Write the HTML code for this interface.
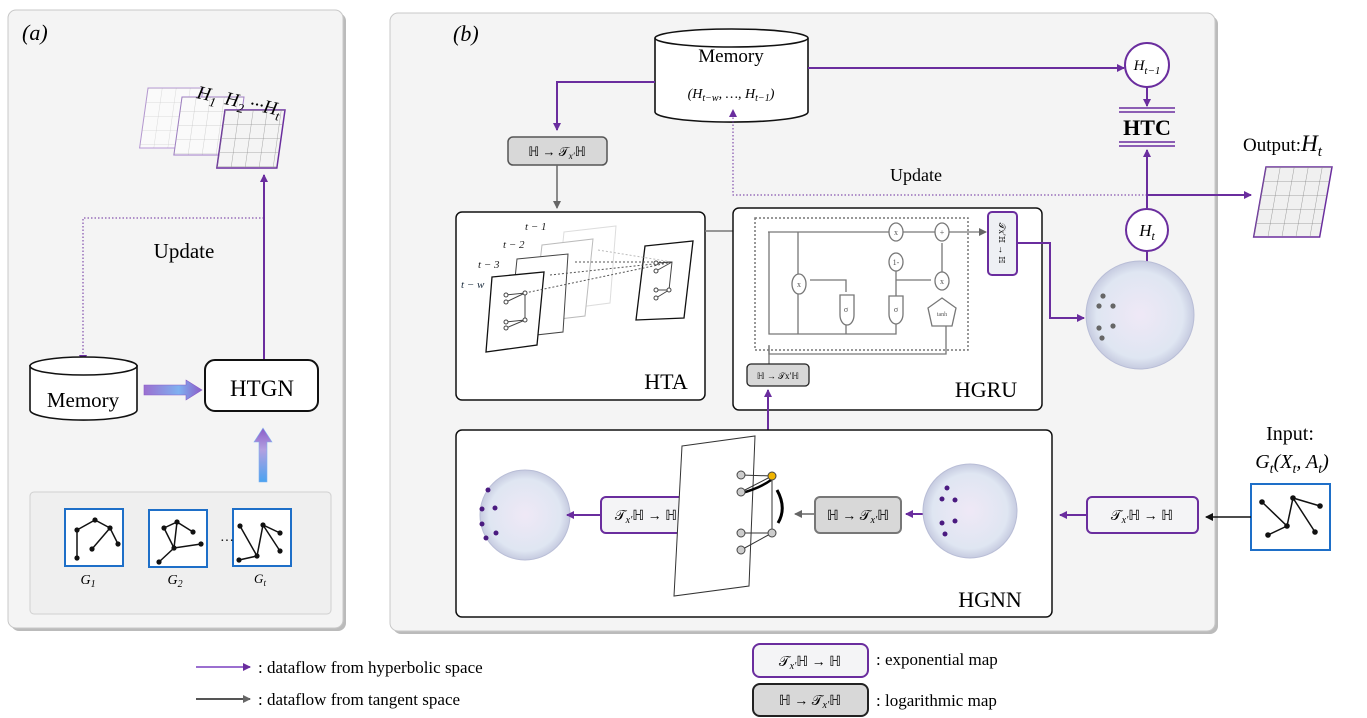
<!DOCTYPE html>
<html><head><meta charset="utf-8"><style>
body{margin:0;background:#fff}
svg{display:block}
text{font-family:"Liberation Serif",serif}
</style></head><body>
<svg width="1367" height="718" viewBox="0 0 1367 718" xmlns="http://www.w3.org/2000/svg">
<defs>
<marker id="ap" markerWidth="8" markerHeight="8" refX="7" refY="4" orient="auto" markerUnits="userSpaceOnUse"><path d="M0,0 L8,4 L0,8z" fill="#6a2d9e"/></marker>
<marker id="ag" markerWidth="8" markerHeight="8" refX="7" refY="4" orient="auto" markerUnits="userSpaceOnUse"><path d="M0,0 L8,4 L0,8z" fill="#666"/></marker>
<marker id="ak" markerWidth="8" markerHeight="8" refX="7" refY="4" orient="auto" markerUnits="userSpaceOnUse"><path d="M0,0 L8,4 L0,8z" fill="#111"/></marker>
<radialGradient id="sph" cx="50%" cy="50%" r="50%"><stop offset="0" stop-color="#efe8f6"/><stop offset="0.8" stop-color="#dfe6f2"/><stop offset="1" stop-color="#c6cbe0"/></radialGradient>
<linearGradient id="fat" x1="0" x2="1"><stop offset="0" stop-color="#9b6fd0"/><stop offset="0.6" stop-color="#7fb0f0"/><stop offset="1" stop-color="#8a5cc8"/></linearGradient>
<linearGradient id="fatv" x1="0" y1="1" x2="0" y2="0"><stop offset="0" stop-color="#4aa3f0"/><stop offset="0.6" stop-color="#b3a0e0"/><stop offset="1" stop-color="#8a5cc8"/></linearGradient>
<pattern id="grid" width="14" height="14" patternUnits="userSpaceOnUse"><path d="M14 0H0V14" fill="none" stroke="#888" stroke-width="0.8"/></pattern>
</defs>

<!-- Panel a -->
<rect x="11" y="13" width="335" height="618" rx="8" fill="#bbb"/>
<rect x="8" y="10" width="335" height="618" rx="8" fill="#f4f4f4" stroke="#c8c8c8"/>
<text x="22" y="40" font-size="22" font-style="italic">(a)</text>
<g transform="translate(148,88) skewX(-8)"><rect width="55" height="60" fill="#fafafa" stroke="#b99ad8"/><rect width="55" height="60" fill="url(#grid)" opacity="0.35"/></g>
<g transform="translate(182,97) skewX(-8)"><rect width="62" height="58" fill="#fafafa" stroke="#a07cc8"/><rect width="62" height="58" fill="url(#grid)" opacity="0.45"/></g>
<g transform="translate(225,110) skewX(-8)"><rect width="60" height="58" fill="#f4f4f4" stroke="#6a2d9e" stroke-width="1.5"/><rect width="60" height="58" fill="url(#grid)" opacity="0.9"/></g>
<text x="196" y="98" font-size="19" font-style="italic" transform="rotate(12 196 98)">H<tspan font-size="13" dy="5">1</tspan></text>
<text x="224" y="104" font-size="19" font-style="italic" transform="rotate(12 224 104)">H<tspan font-size="13" dy="5">2</tspan><tspan dy="-5"> ···H</tspan><tspan font-size="13" dy="5">t</tspan></text>
<text x="184" y="258" font-size="21" text-anchor="middle">Update</text>
<path d="M264 218 H83 V362" fill="none" stroke="#6a2d9e" stroke-dasharray="1.5,2" marker-end="url(#ap)"/>
<line x1="264" y1="360" x2="264" y2="175" stroke="#6a2d9e" stroke-width="2" marker-end="url(#ap)"/>
<path d="M30 365 V410 A53 10 0 0 0 137 410 V365" fill="#fff" stroke="#111" stroke-width="1.6"/>
<ellipse cx="83.5" cy="366" rx="53.5" ry="9" fill="#fff" stroke="#111" stroke-width="1.6"/>
<text x="83" y="407" font-size="21" text-anchor="middle">Memory</text>
<path d="M144 317 h42 v-5 l16 10 l-16 10 v-5 h-42z" transform="translate(0,68)" fill="url(#fat)" stroke="#8a5cc8" stroke-width="0.6"/>
<rect x="205" y="360" width="113" height="51" rx="10" fill="#fff" stroke="#111" stroke-width="2"/>
<text x="262" y="396" font-size="23" text-anchor="middle">HTGN</text>
<path d="M259 482 v-40 h-5 l9 -14 l9 14 h-5 v40z" fill="url(#fatv)" stroke="#7fb0f0" stroke-width="0.6"/>
<rect x="30" y="492" width="301" height="122" rx="4" fill="#efefef" stroke="#d0d0d0"/>
<g stroke="#1e6fc8" stroke-width="2" fill="#fff">
<rect x="65" y="509" width="58" height="57"/><rect x="149" y="510" width="58" height="57"/><rect x="233" y="509" width="58" height="57"/>
</g>
<g stroke="#111" stroke-width="1.5" fill="none">
<path d="M77 530 L77 558 M77 530 L95 520 L110 528 L118 544 M110 528 L92 549"/>
<path d="M164 528 L177 522 L193 532 M177 522 L174 548 L201 544 M164 528 L174 548 L159 562"/>
<path d="M240 526 L257 556 L263 525 L280 533 M263 525 L280 551 M257 556 L239 560"/>
</g>
<g fill="#111">
<circle cx="77" cy="530" r="2.6"/><circle cx="77" cy="558" r="2.6"/><circle cx="95" cy="520" r="2.6"/><circle cx="110" cy="528" r="2.6"/><circle cx="118" cy="544" r="2.6"/><circle cx="92" cy="549" r="2.6"/>
<circle cx="164" cy="528" r="2.6"/><circle cx="177" cy="522" r="2.6"/><circle cx="193" cy="532" r="2.6"/><circle cx="174" cy="548" r="2.6"/><circle cx="201" cy="544" r="2.6"/><circle cx="159" cy="562" r="2.6"/>
<circle cx="240" cy="526" r="2.6"/><circle cx="257" cy="556" r="2.6"/><circle cx="263" cy="525" r="2.6"/><circle cx="280" cy="533" r="2.6"/><circle cx="280" cy="551" r="2.6"/><circle cx="239" cy="560" r="2.6"/>
</g>
<text x="220" y="545" font-size="14">···</text>
<text x="88" y="584" font-size="14" font-style="italic" text-anchor="middle">G<tspan font-size="10" dy="3">1</tspan></text>
<text x="175" y="584" font-size="14" font-style="italic" text-anchor="middle">G<tspan font-size="10" dy="3">2</tspan></text>
<text x="260" y="583" font-size="13" font-style="italic" text-anchor="middle">G<tspan font-size="9" dy="3">t</tspan></text>

<!-- Panel b -->
<rect x="393" y="16" width="825" height="618" rx="8" fill="#bbb"/>
<rect x="390" y="13" width="825" height="618" rx="8" fill="#f4f4f4" stroke="#c8c8c8"/>
<text x="453" y="41" font-size="22" font-style="italic">(b)</text>
<path d="M655 38 V112 A76 10 0 0 0 808 112 V38" fill="#fff" stroke="#111" stroke-width="1.6"/>
<ellipse cx="731.5" cy="38" rx="76.5" ry="9" fill="#fff" stroke="#111" stroke-width="1.6"/>
<text x="731" y="62" font-size="19" text-anchor="middle">Memory</text>
<text x="731" y="98" font-size="14" text-anchor="middle" font-style="italic">(H<tspan font-size="10" dy="3">t−w</tspan><tspan dy="-3">, …, H</tspan><tspan font-size="10" dy="3">t−1</tspan><tspan dy="-3">)</tspan></text>
<path d="M655 82 H557 V130" fill="none" stroke="#6a2d9e" stroke-width="2" marker-end="url(#ap)"/>
<line x1="808" y1="68" x2="1124" y2="68" stroke="#6a2d9e" stroke-width="2" marker-end="url(#ap)"/>
<circle cx="1147" cy="65" r="22" fill="#fff" stroke="#6a2d9e" stroke-width="2"/>
<text x="1147" y="70" font-size="15" font-style="italic" text-anchor="middle">H<tspan font-size="11" dy="4">t−1</tspan></text>
<line x1="1147" y1="87" x2="1147" y2="106" stroke="#6a2d9e" stroke-width="2" marker-end="url(#ap)"/>
<g stroke="#6a2d9e" stroke-width="1.5"><line x1="1119" y1="108" x2="1175" y2="108"/><line x1="1119" y1="112" x2="1175" y2="112"/><line x1="1119" y1="142" x2="1175" y2="142"/><line x1="1119" y1="146" x2="1175" y2="146"/></g>
<text x="1147" y="135" font-size="22" font-weight="bold" text-anchor="middle">HTC</text>
<line x1="1147" y1="208" x2="1147" y2="150" stroke="#6a2d9e" stroke-width="2" marker-end="url(#ap)"/>
<path d="M1147 195 H733 V110" fill="none" stroke="#6a2d9e" stroke-dasharray="1.5,2" marker-end="url(#ap)"/>
<text x="916" y="181" font-size="18" text-anchor="middle">Update</text>
<line x1="1147" y1="195" x2="1251" y2="195" stroke="#6a2d9e" stroke-width="2" marker-end="url(#ap)"/>
<text x="1243" y="151" font-size="19">Output:<tspan font-style="italic" font-size="23">H<tspan font-size="15" dy="5">t</tspan></tspan></text>
<g transform="translate(1266,167) skewX(-10)"><rect width="66" height="70" fill="#f0f0f0" stroke="#6a2d9e" stroke-width="1.5"/><rect width="66" height="70" fill="url(#grid)"/></g>
<circle cx="1147" cy="230" r="21" fill="#fff" stroke="#6a2d9e" stroke-width="2"/>
<text x="1147" y="236" font-size="17" font-style="italic" text-anchor="middle">H<tspan font-size="12" dy="4">t</tspan></text>
<line x1="1147" y1="251" x2="1147" y2="262" stroke="#6a2d9e" stroke-width="2"/>
<circle cx="1140" cy="315" r="54" fill="url(#sph)" stroke="#b8bdd6"/>
<g fill="#666"><circle cx="1103" cy="296" r="2.6"/><circle cx="1099" cy="306" r="2.6"/><circle cx="1113" cy="306" r="2.6"/><circle cx="1099" cy="328" r="2.6"/><circle cx="1113" cy="326" r="2.6"/><circle cx="1102" cy="338" r="2.6"/></g>

<rect x="508" y="137" width="99" height="28" rx="5" fill="#d8d8d8" stroke="#555" stroke-width="1.5"/>
<text x="557" y="156" font-size="13" text-anchor="middle">ℍ → 𝒯<tspan font-size="9" dy="3" font-style="italic">x′</tspan><tspan dy="-3">ℍ</tspan></text>
<line x1="557" y1="165" x2="557" y2="208" stroke="#666" stroke-width="1.5" marker-end="url(#ag)"/>

<!-- HTA -->
<rect x="456" y="212" width="249" height="188" rx="6" fill="#fff" stroke="#111" stroke-width="1.5"/>
<g fill="#fff" stroke-width="1">
<polygon points="564,232 616,226 610,303 556,310" stroke="#ddd"/>
<polygon points="542,245 593,239 585,316 533,322" stroke="#bbb"/>
<polygon points="517,259 568,254 563,332 509,338" stroke="#444"/>
<polygon points="492,277 544,272 537,345 486,352" stroke="#111" stroke-width="1.3"/>
<polygon points="645,246 693,241 684,318 636,320" stroke="#111" stroke-width="1.3"/>
</g>
<g stroke="#555" stroke-dasharray="2,2" fill="none"><line x1="525" y1="293" x2="672" y2="262"/><line x1="550" y1="275" x2="672" y2="262"/><line x1="575" y1="262" x2="672" y2="262"/><line x1="598" y1="250" x2="672" y2="262" stroke="#bbb"/></g>
<g stroke="#444" fill="#fff" stroke-width="1"><path d="M506 295 L525 293 L525 320 L506 328 M506 302 L525 293 M506 322 L525 320" fill="none"/><path d="M656 263 L672 262 L669 290 L656 298 M656 271 L672 262 M656 290 L669 290" fill="none"/>
<circle cx="506" cy="295" r="2"/><circle cx="506" cy="302" r="2"/><circle cx="525" cy="293" r="2"/><circle cx="506" cy="322" r="2"/><circle cx="506" cy="328" r="2"/><circle cx="525" cy="320" r="2"/>
<circle cx="656" cy="263" r="2"/><circle cx="656" cy="271" r="2"/><circle cx="656" cy="290" r="2"/><circle cx="656" cy="298" r="2"/><circle cx="669" cy="290" r="2"/></g>
<g font-size="11" font-style="italic" fill="#222"><text x="525" y="230">t − 1</text><text x="503" y="248">t − 2</text><text x="478" y="268">t − 3</text><text x="461" y="288" fill="#234">t − w</text></g>
<text x="666" y="389" font-size="22" text-anchor="middle">HTA</text>
<line x1="705" y1="231" x2="765" y2="231" stroke="#777" stroke-width="1.5" marker-end="url(#ag)"/>

<!-- HGRU -->
<rect x="733" y="208" width="309" height="202" rx="6" fill="#fff" stroke="#111" stroke-width="1.5"/>
<rect x="755" y="218" width="213" height="132" fill="none" stroke="#777" stroke-width="1.5" stroke-dasharray="2,2"/>
<g stroke="#777" stroke-width="1.3" fill="none">
<line x1="768" y1="232" x2="986" y2="232" marker-end="url(#ag)"/>
<path d="M769 232 V334 H896 V320"/><line x1="798" y1="232" x2="798" y2="334"/>
<line x1="846" y1="334" x2="846" y2="323"/>
<path d="M846 292 V280 H810"/>
<line x1="896" y1="299" x2="896" y2="255"/><path d="M896 280 H931"/>
<line x1="942" y1="274" x2="942" y2="243"/>
<path d="M769 345 V354 H946 V323"/>
<line x1="769" y1="380" x2="769" y2="346"/>
</g>
<g fill="#fff" stroke="#777" stroke-width="1.3">
<ellipse cx="799" cy="284" rx="7" ry="10"/><ellipse cx="896" cy="232" rx="7" ry="9"/><ellipse cx="942" cy="232" rx="7" ry="9"/><ellipse cx="896" cy="262" rx="7" ry="9"/><ellipse cx="942" cy="281" rx="7" ry="9"/>
<path d="M840 295 h14 v20 a7 10 0 0 1 -14 0z"/><path d="M889 296 h14 v18 a7 10 0 0 1 -14 0z"/>
<polygon points="942,298 956,308 952,326 932,326 928,308"/>
</g>
<g font-size="8" fill="#555" text-anchor="middle"><text x="799" y="287">x</text><text x="896" y="235">x</text><text x="942" y="235">+</text><text x="896" y="265">1-</text><text x="942" y="284">x</text><text x="846" y="312">σ</text><text x="896" y="312">σ</text><text x="942" y="316" font-size="6">tanh</text></g>
<rect x="988" y="212" width="29" height="63" rx="4" fill="#eef0f4" stroke="#6a2d9e" stroke-width="2"/>
<text transform="translate(999,243) rotate(90)" font-size="9" text-anchor="middle">𝒯x′ℍ → ℍ</text>
<path d="M1017 243 H1050 V318 H1084" fill="none" stroke="#6a2d9e" stroke-width="2" marker-end="url(#ap)"/>
<rect x="747" y="364" width="62" height="22" rx="4" fill="#d8d8d8" stroke="#222" stroke-width="1.3"/>
<text x="778" y="379" font-size="9" text-anchor="middle">ℍ → 𝒯x′ℍ</text>
<text x="986" y="397" font-size="22" text-anchor="middle">HGRU</text>
<line x1="768" y1="430" x2="768" y2="390" stroke="#6a2d9e" stroke-width="2" marker-end="url(#ap)"/>

<!-- HGNN -->
<rect x="456" y="430" width="596" height="187" rx="6" fill="#fff" stroke="#111" stroke-width="1.5"/>
<circle cx="525" cy="515" r="45" fill="url(#sph)" stroke="#b8bdd6"/>
<g fill="#4a1a80"><circle cx="488" cy="490" r="2.5"/><circle cx="482" cy="509" r="2.5"/><circle cx="495" cy="508" r="2.5"/><circle cx="482" cy="524" r="2.5"/><circle cx="496" cy="533" r="2.5"/><circle cx="486" cy="538" r="2.5"/></g>
<line x1="600" y1="515" x2="567" y2="515" stroke="#6a2d9e" stroke-width="2" marker-end="url(#ap)"/>
<rect x="601" y="497" width="90" height="36" rx="5" fill="#f4f4f6" stroke="#6a2d9e" stroke-width="2"/>
<text x="646" y="520" font-size="14" text-anchor="middle">𝒯<tspan font-size="10" dy="3" font-style="italic">x′</tspan><tspan dy="-3">ℍ → ℍ</tspan></text>
<line x1="714" y1="514" x2="693" y2="514" stroke="#666" stroke-width="1.5" marker-end="url(#ag)"/>
<polygon points="682,446 755,436 749,586 674,596" fill="#fff" stroke="#333"/>
<g stroke="#333" fill="none"><path d="M741 475 L772 476 L772 533 M741 492 L772 476 M741 533 L772 533 M741 550 L772 533"/><path d="M742 493 Q760 488 771 480" stroke-width="2.5" stroke="#000"/><path d="M777 490 Q787 508 778 523" stroke-width="3" stroke="#000"/></g>
<g fill="#ccc" stroke="#444"><circle cx="741" cy="475" r="4"/><circle cx="741" cy="492" r="4"/><circle cx="741" cy="533" r="4"/><circle cx="741" cy="550" r="4"/><circle cx="772" cy="533" r="4"/><circle cx="772" cy="476" r="4" fill="#f0b400"/></g>
<line x1="815" y1="514" x2="795" y2="514" stroke="#666" stroke-width="1.5" marker-end="url(#ag)"/>
<rect x="815" y="497" width="86" height="36" rx="5" fill="#d8d8d8" stroke="#777" stroke-width="2"/>
<text x="858" y="520" font-size="14" text-anchor="middle">ℍ → 𝒯<tspan font-size="10" dy="3" font-style="italic">x′</tspan><tspan dy="-3">ℍ</tspan></text>
<line x1="927" y1="514" x2="906" y2="514" stroke="#6a2d9e" stroke-width="2" marker-end="url(#ap)"/>
<circle cx="970" cy="511" r="47" fill="url(#sph)" stroke="#b8bdd6"/>
<g fill="#4a1a80"><circle cx="947" cy="488" r="2.5"/><circle cx="942" cy="499" r="2.5"/><circle cx="955" cy="500" r="2.5"/><circle cx="942" cy="523" r="2.5"/><circle cx="955" cy="521" r="2.5"/><circle cx="945" cy="534" r="2.5"/></g>
<text x="990" y="607" font-size="22" text-anchor="middle">HGNN</text>
<line x1="1087" y1="515" x2="1060" y2="515" stroke="#6a2d9e" stroke-width="2" marker-end="url(#ap)"/>
<rect x="1087" y="497" width="111" height="36" rx="5" fill="#f4f4f6" stroke="#6a2d9e" stroke-width="2"/>
<text x="1142" y="520" font-size="14" text-anchor="middle">𝒯<tspan font-size="10" dy="3" font-style="italic">x′</tspan><tspan dy="-3">ℍ → ℍ</tspan></text>

<!-- input -->
<text x="1290" y="440" font-size="20" text-anchor="middle">Input:</text>
<text x="1292" y="468" font-size="20" font-style="italic" text-anchor="middle">G<tspan font-size="14" dy="5">t</tspan><tspan dy="-5">(X</tspan><tspan font-size="14" dy="5">t</tspan><tspan dy="-5">, A</tspan><tspan font-size="14" dy="5">t</tspan><tspan dy="-5">)</tspan></text>
<rect x="1251" y="484" width="79" height="66" fill="#fff" stroke="#1e6fc8" stroke-width="2"/>
<g stroke="#111" stroke-width="1.5" fill="none"><path d="M1262 502 L1287 526 L1293 498 L1320 506 M1293 498 L1315 532 M1287 526 L1268 535"/></g>
<g fill="#111"><circle cx="1262" cy="502" r="2.8"/><circle cx="1287" cy="526" r="2.8"/><circle cx="1293" cy="498" r="2.8"/><circle cx="1320" cy="506" r="2.8"/><circle cx="1315" cy="532" r="2.8"/><circle cx="1268" cy="535" r="2.8"/></g>
<line x1="1251" y1="517" x2="1206" y2="517" stroke="#111" stroke-width="1.5" marker-end="url(#ak)"/>

<!-- legend -->
<line x1="196" y1="667" x2="250" y2="667" stroke="#9b6fd0" stroke-width="2" marker-end="url(#ap)"/>
<text x="258" y="673" font-size="17">:  dataflow from hyperbolic space</text>
<line x1="196" y1="699" x2="250" y2="699" stroke="#555" stroke-width="2" marker-end="url(#ag)"/>
<text x="258" y="705" font-size="17">:  dataflow from tangent space</text>
<rect x="753" y="644" width="115" height="33" rx="7" fill="#f4f4f6" stroke="#6a2d9e" stroke-width="2"/>
<text x="810" y="666" font-size="14" text-anchor="middle">𝒯<tspan font-size="10" dy="3" font-style="italic">x′</tspan><tspan dy="-3">ℍ → ℍ</tspan></text>
<text x="876" y="665" font-size="17">:  exponential map</text>
<rect x="753" y="684" width="115" height="32" rx="7" fill="#d8d8d8" stroke="#222" stroke-width="2"/>
<text x="810" y="705" font-size="14" text-anchor="middle">ℍ → 𝒯<tspan font-size="10" dy="3" font-style="italic">x′</tspan><tspan dy="-3">ℍ</tspan></text>
<text x="876" y="706" font-size="17">:  logarithmic map</text>
</svg>
</body></html>
